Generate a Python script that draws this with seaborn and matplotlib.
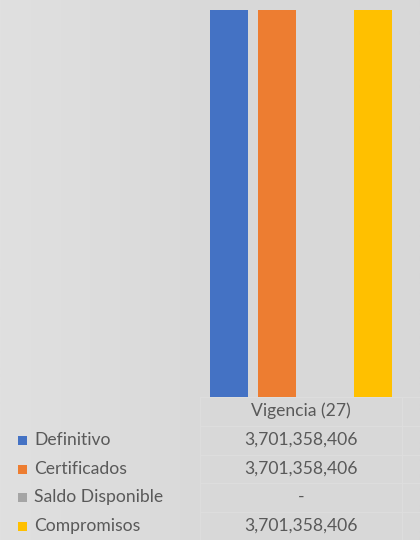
import numpy as np
import pandas as pd
import matplotlib
matplotlib.use("Agg")
import matplotlib.pyplot as plt
import seaborn as sns

# data
categoria = "Vigencia (27)"
series = ["Definitivo", "Certificados", "Saldo Disponible", "Compromisos"]
valores = [3701358406, 3701358406, 0, 3701358406]
colores = ["#4472C4", "#ED7D31", "#A5A5A5", "#FFC000"]

df = pd.DataFrame({"cat": [categoria] * len(series), "serie": series, "valor": valores})

sns.set_theme(style="white")
plt.rcParams["font.family"] = ["Lato", "DejaVu Sans"]

W, H = 420, 540
fig = plt.figure(figsize=(W / 100, H / 100), dpi=100)
fig.patch.set_facecolor("#d9d9d9")

# light gradient background
bg = fig.add_axes([0, 0, 1, 1], zorder=-10)
grad = np.linspace(0, 1, 256)[None, :]
bg.imshow(grad, aspect="auto", cmap=matplotlib.colors.LinearSegmentedColormap.from_list(
    "g", ["#e0e0e0", "#d9d9d9", "#d8d8d8"]), extent=[0, 1, 0, 1])
bg.axis("off")

def fx(px):
    return px / W

def fy(py):
    return 1 - py / H

# bar area (pixels): x 200..402, y 0..397
ax = fig.add_axes([fx(200), fy(397), fx(402) - fx(200), fy(0) - fy(397)])
ax.set_facecolor("none")
sns.barplot(data=df, x="cat", y="valor", hue="serie", palette=colores,
            width=0.95, gap=0.21, ax=ax, legend=False, saturation=1, linewidth=0)
ax.set_xlim(-0.5, 0.5)
ax.set_ylim(0, max(valores) * 397 / 387)
ax.set_xlabel("")
ax.set_ylabel("")
ax.set_xticks([])
ax.set_yticks([])
for s in ax.spines.values():
    s.set_visible(False)

# data table
txt = "#595959"
line_c = "#dedede"
rows_y = [411, 440, 469, 497, 526]
bounds = [397, 426, 455, 483, 512]
for b in bounds:
    fig.add_artist(plt.Line2D([fx(200), 1], [fy(b), fy(b)], color=line_c, lw=0.6))
for vx in [200, 402]:
    fig.add_artist(plt.Line2D([fx(vx), fx(vx)], [fy(397), 0], color=line_c, lw=0.6))

fs = 12.6
fig.text(fx(301), fy(rows_y[0]), categoria, ha="center", va="center", fontsize=fs, color=txt)
for i, (s, v, c) in enumerate(zip(series, valores, colores)):
    y = fy(rows_y[i + 1])
    fig.add_artist(plt.Rectangle((fx(18), y - 4.5 / H), 9 / W, 9 / H, color=c, lw=0))
    fig.text(fx(34), y, s, ha="left", va="center", fontsize=fs, color=txt)
    lab = f"{v:,.0f}" if v else "-"
    fig.text(fx(301), y, lab, ha="center", va="center", fontsize=fs, color=txt)

fig.savefig("out.png", dpi=100)
